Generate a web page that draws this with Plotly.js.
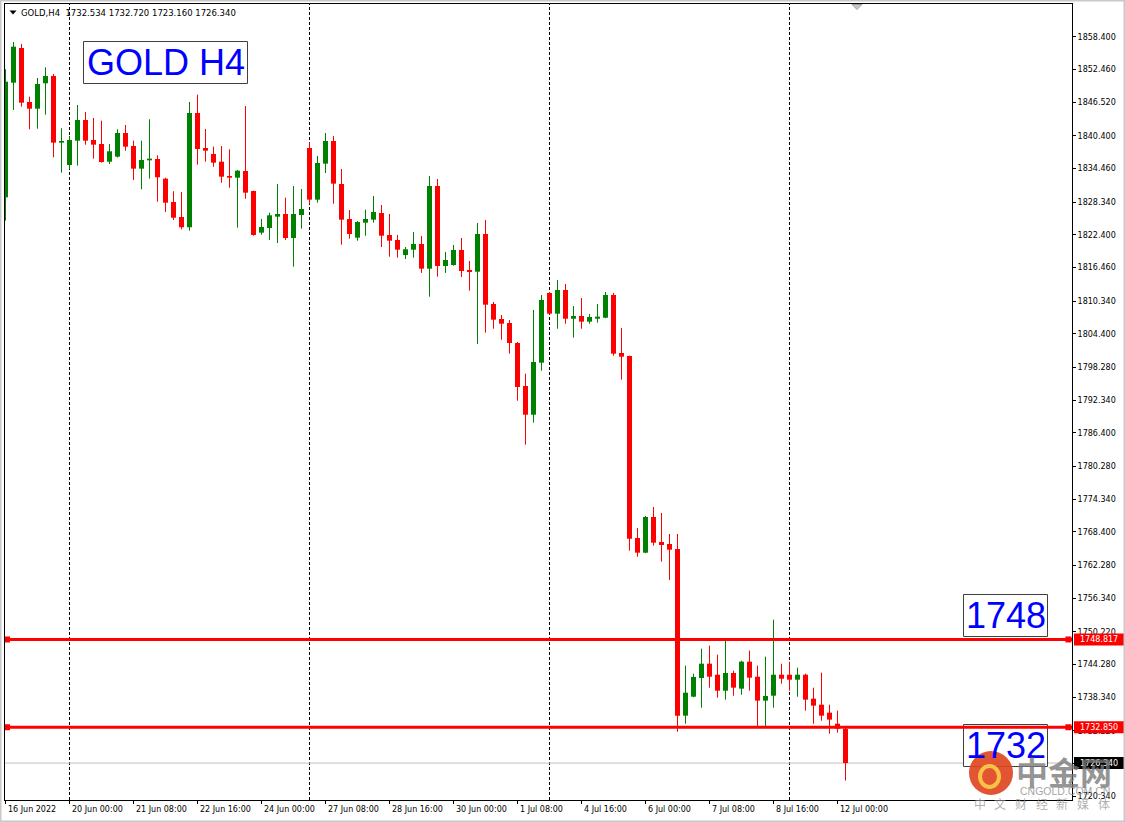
<!DOCTYPE html>
<html><head><meta charset="utf-8">
<script src="https://cdn.plot.ly/plotly-3.0.1.min.js"></script>
<style>html,body{margin:0;padding:0;background:#fff;overflow:hidden}#chart{width:1125px;height:822px}</style>
</head><body><div id="chart"></div>
<script>
// ---------------- data ----------------
const symbol = 'GOLD';
const timeframe = 'H4';
const firstBarTime = '2022-06-16T16:00:00Z';
const opens  = [1829.24,1850.09,1856.40,1846.58,1845.36,1849.98,1851.31,1839.18,1835.12,1839.54,
                1843.30,1839.67,1838.94,1835.72,1836.63,1840.94,1838.57,1834.45,1835.97,1836.21,
                1832.63,1828.39,1825.66,1823.79,1844.58,1838.21,1837.12,1835.72,1833.12,1832.81,
                1834.03,1830.39,1822.81,1823.66,1825.72,1826.21,1821.84,1826.02,1838.21,1828.81,
                1835.36,1839.48,1831.66,1825.30,1821.90,1824.62,1825.17,1826.39,1822.39,1821.48,
                1818.75,1819.71,1820.75,1816.26,1831.30,1816.75,1816.93,1819.66,1816.02,1815.71,
                1822.57,1809.84,1807.11,1806.38,1802.74,1794.92,1789.70,1799.16,1811.84,1808.07,
                1812.38,1807.16,1807.66,1806.62,1807.16,1807.34,1811.47,1800.92,1800.38,1767.28,
                1764.60,1771.10,1766.55,1766.18,1765.27,1734.96,1738.41,1741.81,1744.41,1742.41,
                1739.50,1742.72,1739.87,1744.78,1742.05,1737.69,1738.59,1742.41,1742.41,1741.50,
                1742.41,1738.05,1736.96,1735.51,1733.50,1732.534];
const highs  = [1852.53,1857.49,1857.13,1847.54,1850.94,1852.89,1851.67,1841.79,1840.39,1846.03,
                1844.76,1843.67,1843.18,1838.94,1841.61,1842.39,1839.54,1839.54,1843.43,1836.88,
                1832.80,1830.34,1830.21,1846.58,1847.91,1841.67,1838.45,1838.57,1837.97,1834.21,
                1845.85,1830.45,1825.30,1826.44,1831.66,1829.17,1831.30,1830.75,1839.25,1836.76,
                1840.94,1840.39,1834.39,1826.93,1824.90,1826.99,1829.48,1827.84,1826.21,1822.39,
                1820.20,1822.93,1822.20,1833.12,1832.57,1819.30,1820.57,1821.84,1817.66,1824.57,
                1825.11,1810.20,1807.84,1806.93,1802.93,1797.16,1808.75,1811.47,1812.02,1814.20,
                1813.47,1809.47,1810.93,1808.02,1809.84,1812.02,1811.84,1805.47,1800.45,1769.10,
                1771.28,1772.91,1771.82,1768.00,1768.00,1744.05,1742.60,1747.14,1747.69,1746.05,
                1748.78,1743.14,1744.96,1746.78,1744.05,1745.69,1752.42,1744.41,1744.78,1743.69,
                1742.60,1740.05,1742.78,1736.96,1735.87,1732.720];
const lows   = [1824.99,1845.12,1845.72,1841.61,1841.72,1844.27,1836.52,1833.72,1834.34,1834.99,
                1838.81,1836.27,1835.54,1835.30,1836.48,1837.72,1832.39,1830.70,1832.63,1828.44,
                1826.57,1825.11,1823.42,1823.17,1835.17,1835.72,1834.81,1831.90,1830.99,1823.72,
                1828.99,1822.26,1822.44,1821.48,1820.93,1821.48,1816.62,1823.53,1827.97,1828.26,
                1833.66,1828.08,1820.62,1821.72,1821.35,1822.26,1824.62,1820.20,1818.44,1818.26,
                1818.02,1818.26,1815.48,1811.17,1814.80,1815.48,1816.80,1814.75,1812.26,1802.56,
                1804.62,1805.34,1803.34,1800.80,1792.25,1784.25,1788.25,1797.70,1807.95,1805.34,
                1806.25,1803.71,1805.34,1806.25,1806.44,1807.25,1800.43,1796.07,1764.97,1763.87,
                1764.50,1765.88,1762.97,1759.64,1732.04,1733.50,1738.30,1736.41,1740.05,1738.23,
                1737.87,1738.59,1738.78,1739.50,1732.96,1732.96,1736.41,1740.78,1739.50,1738.41,
                1735.87,1733.50,1734.05,1731.69,1731.87,1723.160];
const closes = [1850.27,1856.64,1846.45,1845.36,1849.85,1851.31,1839.18,1839.48,1839.67,1843.30,
                1839.54,1838.81,1835.66,1837.61,1840.94,1838.45,1834.45,1836.03,1836.27,1832.88,
                1828.26,1825.53,1823.79,1844.58,1838.03,1837.72,1835.54,1832.99,1832.81,1834.08,
                1830.08,1822.39,1823.84,1825.97,1826.21,1821.84,1826.21,1827.12,1828.81,1835.48,
                1839.48,1831.72,1825.17,1822.57,1824.75,1825.30,1826.57,1822.26,1821.35,1819.71,
                1819.79,1820.75,1816.26,1831.30,1816.75,1817.84,1819.66,1815.84,1815.66,1822.57,
                1809.71,1806.98,1806.25,1802.74,1794.74,1789.70,1799.29,1810.57,1808.07,1812.38,
                1807.16,1807.66,1806.62,1807.47,1807.53,1811.47,1800.80,1800.25,1767.15,1764.60,
                1771.10,1766.42,1766.00,1765.15,1734.96,1739.14,1742.00,1744.41,1742.05,1739.50,
                1742.72,1740.05,1744.78,1741.87,1737.69,1738.54,1742.41,1741.68,1741.50,1742.41,
                1737.87,1736.78,1734.96,1734.24,1732.60,1726.340];
const yTickLabels = ['1858.400','1852.460','1846.520','1840.400','1834.460','1828.340','1822.400',
                     '1816.460','1810.340','1804.400','1798.280','1792.340','1786.400','1780.280',
                     '1774.340','1768.400','1762.280','1756.340','1750.220','1744.280','1738.340',
                     '1732.220','1726.340','1720.340'];
const xTickTimes  = ['2022-06-16 16:00','2022-06-20 00:00','2022-06-21 08:00','2022-06-22 16:00',
                     '2022-06-24 00:00','2022-06-27 08:00','2022-06-28 16:00','2022-06-30 00:00',
                     '2022-07-01 08:00','2022-07-04 16:00','2022-07-06 00:00','2022-07-07 08:00',
                     '2022-07-08 16:00','2022-07-12 00:00'];
const xTickLabels = ['16 Jun 2022','20 Jun 00:00','21 Jun 08:00','22 Jun 16:00','24 Jun 00:00',
                     '27 Jun 08:00','28 Jun 16:00','30 Jun 00:00','1 Jul 08:00','4 Jul 16:00',
                     '6 Jul 00:00','7 Jul 08:00','8 Jul 16:00','12 Jul 00:00'];
const levels     = [1748.817, 1732.850];
const levelNotes = ['1748', '1732'];
const bidPrice   = 1726.340;
const noteTitle  = 'GOLD H4';
const wmName     = '中金网';
const wmSite     = 'CNGOLD.COM.CN';
const wmSlogan   = ['中','文','财','经','新','媒','体'];

// ---------------- helpers ----------------
const W = 1125, H = 822, ML = 5, MR = 53, MT = 4, MB = 22;
const PW = W - ML - MR, PH = H - MT - MB;
const xr = [-0.0625, -0.0625 + PW / 8];
const yr = [1719.62, 1864.40];
const pxX = X => (X - ML) / PW;
const pxY = Y => 1 - (Y - MT) / PH;
const prY = v => (v - yr[0]) / (yr[1] - yr[0]);
const pad = n => String(n).padStart(2, '0');

// bar times (H4, weekdays only)
const times = [];
{
  let t = new Date(firstBarTime);
  while (times.length < opens.length) {
    const d = t.getUTCDay();
    if (d !== 0 && d !== 6) {
      times.push(t.getUTCFullYear() + '-' + pad(t.getUTCMonth() + 1) + '-' + pad(t.getUTCDate()) +
                 ' ' + pad(t.getUTCHours()) + ':' + pad(t.getUTCMinutes()));
    }
    t = new Date(t.getTime() + 4 * 3600 * 1000);
  }
}
const idx = times.map((_, i) => i);
const BULL = '#008000', BEAR = '#ff0000';

// wicks
const wick = {bx: [], by: [], rx: [], ry: []};
idx.forEach(i => {
  const up = closes[i] >= opens[i];
  (up ? wick.bx : wick.rx).push(i, i, null);
  (up ? wick.by : wick.ry).push(highs[i], lows[i], null);
});
const bodyBase = idx.map(i => Math.min(opens[i], closes[i]));
const bodyH = idx.map(i => Math.max(Math.abs(closes[i] - opens[i]), 0.19));
const bodyCol = idx.map(i => closes[i] >= opens[i] ? BULL : BEAR);

const traces = [
  {type: 'scatter', mode: 'lines', x: wick.bx, y: wick.by, line: {color: BULL, width: 1}, hoverinfo: 'skip'},
  {type: 'scatter', mode: 'lines', x: wick.rx, y: wick.ry, line: {color: BEAR, width: 1}, hoverinfo: 'skip'},
  {type: 'bar', x: idx, base: bodyBase, y: bodyH, width: 0.625, marker: {color: bodyCol, line: {width: 0}}, hoverinfo: 'skip'},
  // end markers of horizontal level lines
  {type: 'scatter', mode: 'markers', x: levels.map(() => xr[0] + 0.25).concat(levels.map(() => xr[1] - 0.45)),
   y: levels.concat(levels), marker: {symbol: 'square', size: 6, color: BEAR}, hoverinfo: 'skip', cliponaxis: false},
  {type: 'scatter', mode: 'markers', x: levels.map(() => xr[0] + 0.25).concat(levels.map(() => xr[1] - 0.45)),
   y: levels.concat(levels), marker: {symbol: 'square', size: 2, color: '#ffffff'}, hoverinfo: 'skip', cliponaxis: false}
];

// ---------------- shapes ----------------
const shapes = [];
// weekly separators (Monday 00:00)
idx.forEach(i => {
  const d = new Date(times[i].replace(' ', 'T') + ':00Z');
  if (i > 0 && d.getUTCDay() === 1 && d.getUTCHours() === 0) {
    shapes.push({type: 'line', xref: 'x', yref: 'paper', x0: i, x1: i, y0: 0, y1: 1,
                 line: {color: '#000000', width: 1, dash: '3px,2px'}, layer: 'below'});
  }
});
// bid line
shapes.push({type: 'line', xref: 'paper', yref: 'y', x0: 0, x1: 1, y0: bidPrice, y1: bidPrice,
             line: {color: '#c0c0c0', width: 1}, layer: 'below'});
// note boxes
const boxes = [[83.5, 41.5, 247.5, 83.5], [963.5, 594.5, 1047.5, 636.5], [963.5, 724.5, 1047.5, 766.5]];
boxes.forEach(b => shapes.push({type: 'rect', xref: 'paper', yref: 'paper', x0: pxX(b[0]), x1: pxX(b[2]),
  y0: pxY(b[3]), y1: pxY(b[1]), fillcolor: '#ffffff', line: {color: '#404040', width: 1}, layer: 'above'}));
// level lines
levels.forEach(lv => shapes.push({type: 'line', xref: 'paper', yref: 'y', x0: 0, x1: 1, y0: lv, y1: lv,
  line: {color: BEAR, width: 3}, layer: 'above'}));
// price tags on the axis
levels.forEach(lv => shapes.push({type: 'rect', xref: 'paper', yref: 'paper', x0: pxX(1074), x1: pxX(1125),
  y0: prY(lv) - 6 / PH, y1: prY(lv) + 6 / PH, fillcolor: BEAR, line: {width: 0}}));
shapes.push({type: 'rect', xref: 'paper', yref: 'paper', x0: pxX(1074), x1: pxX(1125),
  y0: prY(bidPrice) - 6 / PH, y1: prY(bidPrice) + 6 / PH, fillcolor: '#000000', line: {width: 0}});
// header triangle
const tri = (x0, x1, yTop, yBot, xm) => `M${pxX(x0)},${pxY(yTop)} L${pxX(x1)},${pxY(yTop)} L${pxX(xm)},${pxY(yBot)} Z`;
shapes.push({type: 'path', xref: 'paper', yref: 'paper', path: tri(9.5, 16.5, 10.5, 14.5, 13), fillcolor: '#000000', line: {width: 0}});
// chart shift marker at top
shapes.push({type: 'path', xref: 'paper', yref: 'paper', path: tri(852, 862, 4.5, 9.5, 857), fillcolor: '#c8c8c8', line: {color: '#a0a0a0', width: 1}});
// watermark logo
shapes.push({type: 'circle', xref: 'paper', yref: 'paper', x0: pxX(969), x1: pxX(1013), y0: pxY(795), y1: pxY(751),
  fillcolor: 'rgba(222,70,34,0.92)', line: {width: 0}});
shapes.push({type: 'circle', xref: 'paper', yref: 'paper', x0: pxX(980), x1: pxX(999), y0: pxY(787), y1: pxY(766),
  fillcolor: 'rgba(0,0,0,0)', line: {color: 'rgba(250,200,70,0.95)', width: 4}});
// outer window border
shapes.push({type: 'rect', xref: 'paper', yref: 'paper', x0: pxX(0.5), x1: pxX(1124.5), y0: pxY(821.5), y1: pxY(0.5),
  line: {color: '#c8c8c8', width: 2}, fillcolor: 'rgba(0,0,0,0)'});

// ---------------- annotations ----------------
const F = 'DejaVu Sans';
const ann = [];
const last = opens.length - 1;
ann.push({xref: 'paper', yref: 'paper', x: pxX(19), y: pxY(13), xanchor: 'left', yanchor: 'middle', showarrow: false,
  text: `${symbol},${timeframe}\u00a0\u00a0` + [opens[last], highs[last], lows[last], closes[last]].map(v => v.toFixed(3)).join(' '),
  font: {family: F, size: 8.5, color: '#000000'}});
xTickTimes.forEach((t, k) => ann.push({xref: 'x', yref: 'paper', x: times.indexOf(t), y: 0, xanchor: 'left', yanchor: 'middle',
  yshift: -9.5, xshift: 0, showarrow: false, text: xTickLabels[k], font: {family: F, size: 8, color: '#000000'}}));
const noteFont = {family: 'Liberation Sans', size: 36, color: '#0000ff'};
ann.push({xref: 'paper', yref: 'paper', x: pxX(165.5), y: pxY(62.5), xanchor: 'center', yanchor: 'middle', showarrow: false, text: noteTitle, font: noteFont});
levelNotes.forEach((t, k) => ann.push({xref: 'paper', yref: 'paper', x: pxX(1005.5), y: pxY(k === 0 ? 615.5 : 745.5),
  xanchor: 'center', yanchor: 'middle', showarrow: false, text: t, font: noteFont}));
levels.forEach(lv => ann.push({xref: 'paper', yref: 'paper', x: pxX(1078), y: prY(lv), xanchor: 'left', yanchor: 'middle',
  showarrow: false, text: lv.toFixed(3), font: {family: F, size: 8, color: '#ffffff'}}));
ann.push({xref: 'paper', yref: 'paper', x: pxX(1078), y: prY(bidPrice), xanchor: 'left', yanchor: 'middle',
  showarrow: false, text: bidPrice.toFixed(3), font: {family: F, size: 8, color: '#ffffff'}});
// watermark text
ann.push({xref: 'paper', yref: 'paper', x: pxX(1064), y: pxY(771), xanchor: 'center', yanchor: 'middle', showarrow: false,
  text: '<b>' + wmName + '</b>', font: {family: 'Noto Sans CJK SC', size: 32, color: 'rgba(120,120,120,0.78)'}});
ann.push({xref: 'paper', yref: 'paper', x: pxX(1065), y: pxY(791), xanchor: 'center', yanchor: 'middle', showarrow: false,
  text: wmSite, font: {family: 'Liberation Sans', size: 10.5, color: 'rgba(140,140,140,0.8)'}});
wmSlogan.forEach((c, k) => ann.push({xref: 'paper', yref: 'paper', x: pxX(979.5 + k * 20.7), y: pxY(804), xanchor: 'center',
  yanchor: 'middle', showarrow: false, text: c, font: {family: 'Noto Sans CJK SC', size: 12, color: 'rgba(150,150,150,0.75)'}}));

// ---------------- layout ----------------
const layout = {
  width: W, height: H,
  margin: {l: ML, r: MR, t: MT, b: MB, pad: 0},
  paper_bgcolor: '#ffffff', plot_bgcolor: '#ffffff',
  showlegend: false, hovermode: false, barmode: 'overlay',
  xaxis: {range: xr, showgrid: false, zeroline: false, showline: true, linecolor: '#000000', linewidth: 1, mirror: true,
          tickmode: 'array', tickvals: xTickTimes.map(t => times.indexOf(t)), ticks: 'outside', ticklen: 3,
          tickcolor: '#000000', showticklabels: false, fixedrange: true},
  yaxis: {range: yr, side: 'right', showgrid: false, zeroline: false, showline: true, linecolor: '#000000', linewidth: 1,
          mirror: true, tickmode: 'array', tickvals: yTickLabels.map(Number), ticktext: yTickLabels, ticks: 'outside',
          ticklen: 3, tickcolor: '#000000', tickfont: {family: F, size: 8, color: '#000000'}, fixedrange: true},
  shapes: shapes,
  annotations: ann
};
Plotly.newPlot('chart', traces, layout, {staticPlot: true, displayModeBar: false});
</script>
</body></html>
